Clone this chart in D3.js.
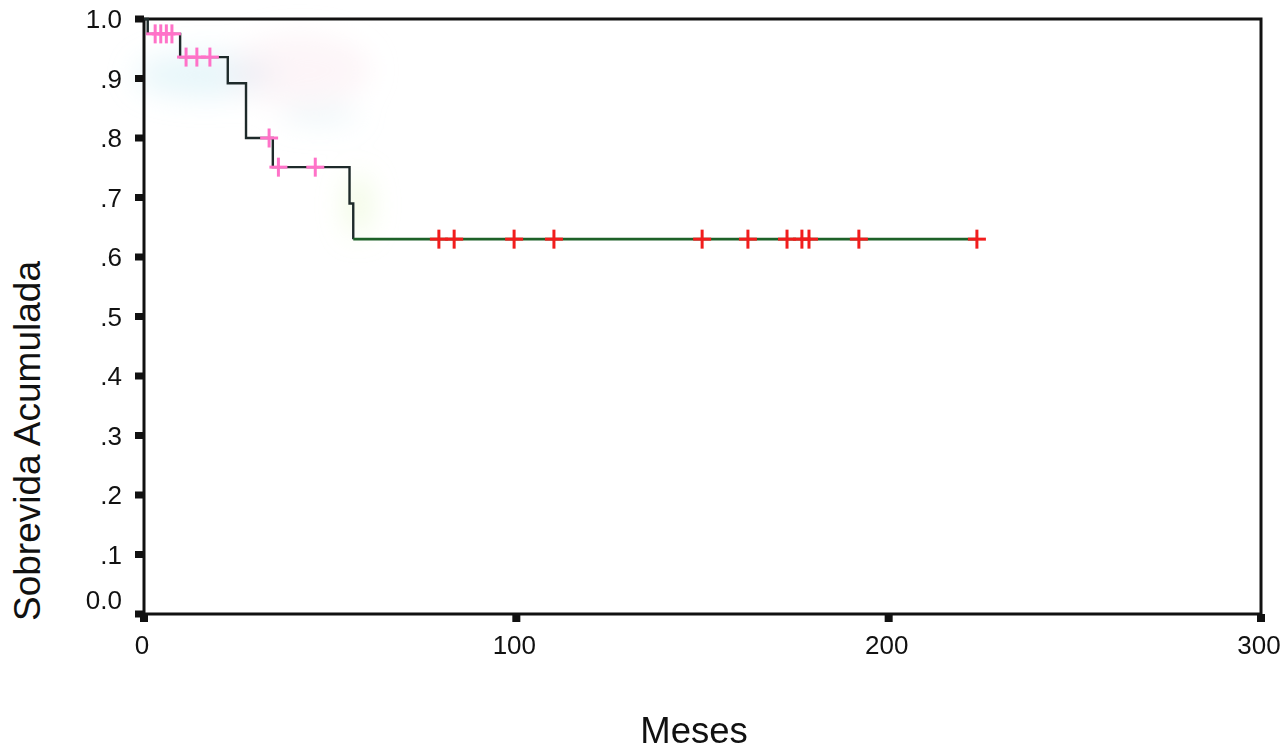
<!DOCTYPE html>
<html>
<head>
<meta charset="utf-8">
<script src="https://cdn.jsdelivr.net/npm/d3@7"></script>
<style>
  html, body { margin: 0; padding: 0; background: #fff; }
  svg { display: block; }
  text { font-family: "Liberation Sans", Arial, sans-serif; fill: #111; }
</style>
</head>
<body>
<svg id="chart" width="1288" height="755"></svg>
<script>
// ---- Data ----
// Kaplan–Meier step function: time (months) where survival drops, and survival after drop
const stepTimes = [0, 1, 9.7, 22.5, 27.4, 34.6, 55.2, 56.2];
const stepSurv  = [1.0, 0.975, 0.936, 0.892, 0.80, 0.751, 0.69, 0.63];
const endTime = 223.7;

// Censored observations (time, survival level) – early ones (pink) and later ones (red)
const censorEarlyTimes = [3, 4.5, 6, 7.5, 11.3, 14.2, 17.7, 33.6, 36.1, 46.0];
const censorEarlySurv  = [0.975, 0.975, 0.975, 0.975, 0.936, 0.936, 0.936, 0.80, 0.751, 0.751];
const censorLateTimes  = [79.2, 83.3, 99.4, 110.1, 149.9, 162.2, 172.7, 176.7, 178.6, 192.0, 223.7];
const censorLateSurv   = [0.63, 0.63, 0.63, 0.63, 0.63, 0.63, 0.63, 0.63, 0.63, 0.63, 0.63];

const xTicks = [0, 100, 200, 300];
const xTickLabels = ["0", "100", "200", "300"];
const yTicks = [0, 0.1, 0.2, 0.3, 0.4, 0.5, 0.6, 0.7, 0.8, 0.9, 1.0];
const yTickLabels = ["0.0", ".1", ".2", ".3", ".4", ".5", ".6", ".7", ".8", ".9", "1.0"];

const xTitle = "Meses";
const yTitle = "Sobrevida Acumulada";

// ---- Layout ----
const svg = d3.select("#chart");
const x = d3.scaleLinear().domain([0, 300]).range([144, 1261]);
const y = d3.scaleLinear().domain([0, 1]).range([614, 19]);

// faint colour haze (photo artefacts)
const defs = svg.append("defs");
defs.append("filter").attr("id", "blur").attr("x", "-50%").attr("y", "-50%")
  .attr("width", "200%").attr("height", "200%")
  .append("feGaussianBlur").attr("stdDeviation", 14);
const haze = svg.append("g").attr("filter", "url(#blur)");
haze.append("ellipse").attr("cx", 205).attr("cy", 75).attr("rx", 70).attr("ry", 22).attr("fill", "#cdeaf5").attr("opacity", 0.45);
haze.append("ellipse").attr("cx", 300).attr("cy", 70).attr("rx", 70).attr("ry", 35).attr("fill", "#fbe6ee").attr("opacity", 0.4);
haze.append("ellipse").attr("cx", 320).attr("cy", 115).attr("rx", 40).attr("ry", 8).attr("fill", "#d2ecf2").attr("opacity", 0.45);
haze.append("ellipse").attr("cx", 358).attr("cy", 205).attr("rx", 12).attr("ry", 30).attr("fill", "#e6f7cc").attr("opacity", 0.6);

// Frame
svg.append("rect")
  .attr("x", x(0)).attr("y", y(1))
  .attr("width", x(300) - x(0)).attr("height", y(0) - y(1))
  .attr("fill", "none").attr("stroke", "#111").attr("stroke-width", 3);

// Y axis ticks (small thick squares outside)
svg.append("g").selectAll("rect").data(yTicks).join("rect")
  .attr("x", x(0) - 9).attr("y", d => y(d) - 3.5)
  .attr("width", 9).attr("height", 7).attr("fill", "#111");
svg.append("g").selectAll("text").data(yTicks).join("text")
  .attr("x", 122).attr("y", (d, i) => y(d) + (i === 0 ? -14 : 0))
  .attr("dy", "0.36em").attr("text-anchor", "end")
  .attr("font-size", 26)
  .text((d, i) => yTickLabels[i]);

// X axis ticks
svg.append("g").selectAll("rect").data(xTicks).join("rect")
  .attr("x", d => x(d) - 4).attr("y", y(0))
  .attr("width", 8).attr("height", 8).attr("fill", "#111");
svg.append("g").selectAll("text").data(xTicks).join("text")
  .attr("x", d => x(d) - 2).attr("y", y(0) + 40)
  .attr("text-anchor", "middle")
  .attr("font-size", 26)
  .text((d, i) => xTickLabels[i]);

// Axis titles
svg.append("text").attr("x", 694).attr("y", 743)
  .attr("text-anchor", "middle").attr("font-size", 36.5).text(xTitle);
svg.append("text")
  .attr("transform", "translate(40,441) rotate(-90)")
  .attr("text-anchor", "middle").attr("font-size", 37).text(yTitle);

// KM curve
const lastIdx = stepTimes.length - 1;
const early = [];
for (let i = 0; i < lastIdx; i++) {
  early.push([stepTimes[i], stepSurv[i]]);
  early.push([stepTimes[i + 1], stepSurv[i]]);
}
early.push([stepTimes[lastIdx], stepSurv[lastIdx]]);
const late = [[stepTimes[lastIdx], stepSurv[lastIdx]], [endTime, stepSurv[lastIdx]]];

const line = d3.line().x(d => x(d[0])).y(d => y(d[1]));
svg.append("path").attr("d", line(early))
  .attr("fill", "none").attr("stroke", "#1e2a2a").attr("stroke-width", 2.4);
svg.append("path").attr("d", line(late))
  .attr("fill", "none").attr("stroke", "#1d6128").attr("stroke-width", 2.6);

// Censor marks
function crosses(times, surv, color) {
  const g = svg.append("g").attr("stroke", color).attr("stroke-width", 3);
  times.forEach((t, i) => {
    const cx = x(t), cy = y(surv[i]);
    g.append("line").attr("x1", cx - 9).attr("x2", cx + 9).attr("y1", cy).attr("y2", cy);
    g.append("line").attr("x1", cx).attr("x2", cx).attr("y1", cy - 9.5).attr("y2", cy + 9.5);
  });
}
crosses(censorEarlyTimes, censorEarlySurv, "#ff72c8");
crosses(censorLateTimes, censorLateSurv, "#f21c1c");
</script>
</body>
</html>
